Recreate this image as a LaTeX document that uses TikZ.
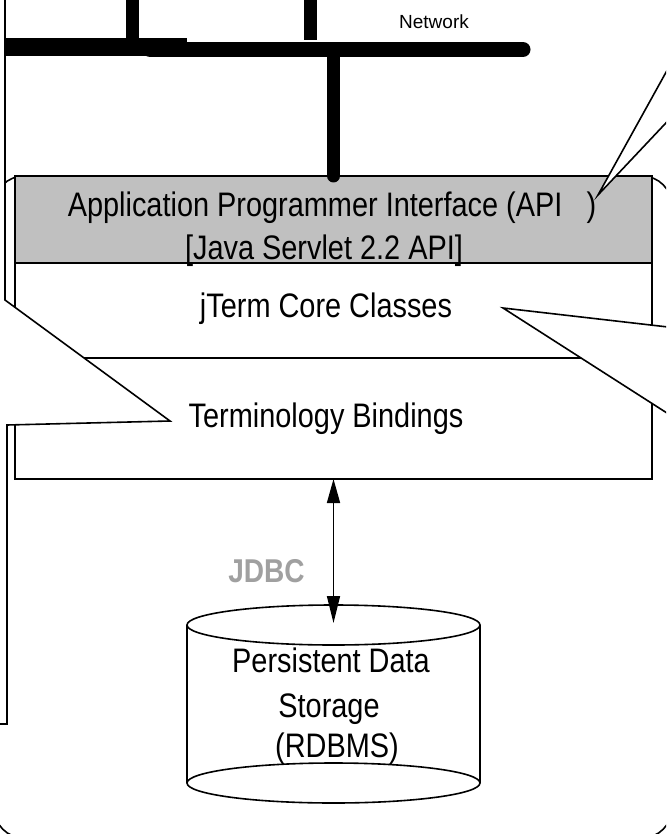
\documentclass[tikz,border=0pt]{standalone}
\usepackage{fontspec}
\setmainfont{Liberation Sans}[FakeStretch=0.85]
\newfontfamily\netFont{Liberation Sans}
\usetikzlibrary{positioning, arrows.meta}
\definecolor{apiGray}{RGB}{192,192,192}
\definecolor{jdbcGray}{RGB}{160,160,160}
\tikzstyle{canvas} = [x = 1pt, y = -1pt]
\tikzstyle{thinLine} = [line width = 1.6pt, color=black]
\tikzstyle{layerBox} = [thinLine, draw, rectangle, inner sep=0pt, outer sep=0pt, minimum width=637pt]
\tikzstyle{netLine} = [color=black, line width=15pt]
\tikzstyle{calloutStyle} = [thinLine, fill=white, line join=miter]
\tikzstyle{layerText} = [font=\fontsize{34}{40}\selectfont, anchor=base, inner sep=0pt]
\tikzstyle{dataArrow} = [thinLine, {Triangle[length=24pt, width=13pt]}-{Triangle[length=27pt, width=13pt]}]

\begin{document}
\begin{tikzpicture}[canvas]
      \useasboundingbox (0,0) rectangle (666,834);
      \clip (0,0) rectangle (666,834);

      % outer frame of the server
      \draw[thinLine, rounded corners=30pt] (-6,176) rectangle (672,838);

      % network backbone
      \draw[netLine, line width=18pt] (-20,47) -- (187,47);
      \draw[netLine, line cap=round] (150,49.5) -- (523,49.5);
      \draw[netLine, line width=13pt] (132,-10) -- (132,40);
      \draw[netLine, line width=13pt] (310,-10) -- (310,40);
      \node[font=\netFont\fontsize{19}{22}\selectfont, anchor=base] (netLabel) at (434,29) {Network};

      % layers
      \node[layerBox, fill=apiGray, minimum height=87pt, anchor=north west] (api) at (15,176) {};
      \node[layerBox, minimum height=95pt, below=0pt of api] (core) {};
      \node[layerBox, minimum height=121pt, below=0pt of core] (bind) {};
      \draw[netLine, line width=13pt, line cap=round] (333.5,57) -- (api.north);

      \node[layerText] (apiTitle) at (332,216) {Application Programmer Interface (API\ \ \ )};
      \node[layerText] (apiSub) at (324,259) {[Java Servlet 2.2 API]};
      \node[layerText] (coreText) at (326,317) {jTerm Core Classes};
      \node[layerText] (bindText) at (326,427) {Terminology Bindings};

      % callouts from outside
      \filldraw[calloutStyle] (-30,-10) -- (5,-10) -- (5,300) -- (170,421) -- (7,425) -- (7,724) -- (-30,724) -- cycle;
      \filldraw[calloutStyle] (503,308) -- (720,333) -- (720,447) -- cycle;
      \filldraw[calloutStyle] (598,195) -- (680,47) -- (680,108) -- cycle;

      % storage
      \coordinate (dbTop) at (333.5,625);
      \coordinate (dbTip) at (333.5,623);
      \coordinate (dbBottom) at (333.5,783);
      \draw[thinLine] (dbTop) ellipse [x radius=146.5, y radius=20];
      \draw[thinLine] (dbBottom) ellipse [x radius=146.5, y radius=20];
      \draw[thinLine] (187,625) -- (187,783) (480,625) -- (480,783);
      \node[layerText] (dbText1) at (331,672) {Persistent Data};
      \node[layerText] (dbText2) at (329,717) {Storage};
      \node[layerText] (dbText3) at (337,757) {(RDBMS)};

      \draw[dataArrow] (bind.south) -- (dbTip);
      \node[layerText, font=\bfseries\fontsize{33}{40}\selectfont, text=jdbcGray] (jdbcLabel) at (266.5,582) {JDBC};
    \end{tikzpicture}
\end{document}
